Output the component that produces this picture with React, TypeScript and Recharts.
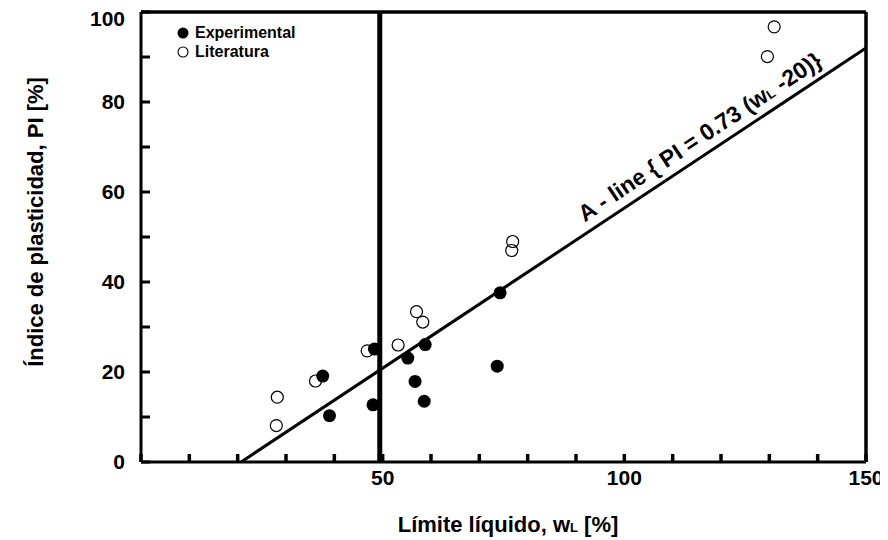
import React from 'react';
import {
  ScatterChart,
  Scatter,
  XAxis,
  YAxis,
  ReferenceLine,
  Legend,
} from 'recharts';

// ---- data ----
const experimental = [
  { x: 37.6, y: 19.1 },
  { x: 39.0, y: 10.3 },
  { x: 48.3, y: 25.1 },
  { x: 48.0, y: 12.7 },
  { x: 55.2, y: 23.1 },
  { x: 58.8, y: 26.1 },
  { x: 56.7, y: 17.9 },
  { x: 58.6, y: 13.5 },
  { x: 73.7, y: 21.3 },
  { x: 74.3, y: 37.6 },
];

const literatura = [
  { x: 28.2, y: 14.4 },
  { x: 28.0, y: 8.1 },
  { x: 36.1, y: 18.0 },
  { x: 46.8, y: 24.7 },
  { x: 53.2, y: 26.0 },
  { x: 57.0, y: 33.4 },
  { x: 58.3, y: 31.1 },
  { x: 76.9, y: 49.0 },
  { x: 76.7, y: 47.0 },
  { x: 131.0, y: 96.7 },
  { x: 129.6, y: 90.1 },
];

const aLine = [
  { x: 20.7, y: 0 },
  { x: 150, y: 92 },
];

const aLineLabelAnchor = [{ x: 115.6, y: 72.3 }];

const xTicks = [0, 10, 20, 30, 40, 50, 60, 70, 80, 90, 100, 110, 120, 130, 140, 150];
const xTickLabels = [50, 100, 150];
const yTicks = [0, 10, 20, 30, 40, 50, 60, 70, 80, 90, 100];
const yTickLabels = [0, 20, 40, 60, 80, 100];
const verticalLineX = 49.4;
const xMax = 150;
const yMax = 100;

const FONT = '"Liberation Sans", Arial, Helvetica, sans-serif';

const XTick = (props: any) => {
  const { x, y, payload } = props;
  if (!xTickLabels.includes(payload.value)) return <g />;
  return (
    <text x={x} y={y} textAnchor="middle" fontSize={21} fontWeight="bold" fill="#000" fontFamily={FONT}>
      {payload.value}
    </text>
  );
};

const YTick = (props: any) => {
  const { x, y, payload } = props;
  if (!yTickLabels.includes(payload.value)) return <g />;
  const extra = payload.value === 100 ? 7 : 0;
  return (
    <text x={x} y={y + extra} dy="0.35em" textAnchor="end" fontSize={21} fontWeight="bold" fill="#000" fontFamily={FONT}>
      {payload.value}
    </text>
  );
};

const OpenDot = (p: any) => (
  <circle cx={p.cx} cy={p.cy} r={6} fill="none" stroke="#000" strokeWidth={1.2} />
);
const FilledDot = (p: any) => <circle cx={p.cx} cy={p.cy} r={6.5} fill="#000" stroke="none" />;
const NoDot = () => <g />;

const ALineLabel = (p: any) => {
  const { cx, cy } = p;
  return (
    <text
      x={cx}
      y={cy}
      dy="0.35em"
      textAnchor="middle"
      fontSize={23}
      fontWeight="bold"
      fill="#000"
      fontFamily={FONT}
      transform={`rotate(-33.5 ${cx} ${cy})`}
    >
      A - line {'{'} PI = 0.73 (w<tspan fontSize={13}>L</tspan> -20){'}'}
    </text>
  );
};

const LegendContent = () => (
  <div style={{ fontFamily: FONT, fontWeight: 'bold', fontSize: 16, lineHeight: '19px', color: '#000' }}>
    <div style={{ display: 'flex', alignItems: 'center', height: 19 }}>
      <svg width={12} height={12} style={{ marginRight: 6 }}>
        <circle cx={6} cy={6} r={5.5} fill="#000" />
      </svg>
      Experimental
    </div>
    <div style={{ display: 'flex', alignItems: 'center', height: 19 }}>
      <svg width={12} height={12} style={{ marginRight: 6 }}>
        <circle cx={6} cy={6} r={5} fill="none" stroke="#000" strokeWidth={1.1} />
      </svg>
      Literatura
    </div>
  </div>
);

const XLabel = (props: any) => {
  const vb = props.viewBox || {};
  const cx = vb.x + vb.width / 2 + 4.5;
  return (
    <text x={cx} y={523.5} textAnchor="middle" fontSize={22} fontWeight="bold" fill="#000" fontFamily={FONT}>
      Límite líquido, w<tspan fontSize={13}>L</tspan> [%]
    </text>
  );
};

const YLabel = () => {
  const x = 35;
  const y = 214;
  return (
    <text
      x={x}
      y={y}
      textAnchor="middle"
      fontSize={22}
      fontWeight="bold"
      fill="#000"
      fontFamily={FONT}
      transform={`rotate(-90 ${x} ${y})`}
    >
      Índice de plasticidad, PI [%]
    </text>
  );
};

export default function App() {
  return (
    <div style={{ width: 880, height: 532, fontFamily: FONT }}>
      <ScatterChart
        width={880}
        height={532}
        margin={{ top: 4, right: 22, bottom: 48, left: 73 }}
        style={{ fontFamily: FONT }}
      >
        <XAxis
          type="number"
          dataKey="x"
          domain={[0, xMax]}
          ticks={xTicks}
          interval={0}
          allowDataOverflow
          height={30}
          tickSize={-8}
          tickMargin={31}
          axisLine={{ stroke: '#000', strokeWidth: 3 }}
          tickLine={{ stroke: '#000', strokeWidth: 3.5 }}
          tick={<XTick />}
          label={<XLabel />}
        />
        <YAxis
          type="number"
          dataKey="y"
          domain={[0, yMax]}
          ticks={yTicks}
          interval={0}
          allowDataOverflow
          width={60}
          tickSize={-9}
          tickMargin={25}
          axisLine={{ stroke: '#000', strokeWidth: 3 }}
          tickLine={{ stroke: '#000', strokeWidth: 3 }}
          tick={<YTick />}
          label={<YLabel />}
        />
        <ReferenceLine y={yMax} stroke="#000" strokeWidth={3.5} />
        <ReferenceLine x={xMax} stroke="#000" strokeWidth={3.5} />
        <Scatter
          name="A-line"
          data={aLine}
          line={{ stroke: '#000', strokeWidth: 3 }}
          lineType="joint"
          shape={<NoDot />}
          isAnimationActive={false}
          legendType="none"
        />
        <Scatter
          name="A-line label"
          data={aLineLabelAnchor}
          shape={<ALineLabel />}
          isAnimationActive={false}
          legendType="none"
        />
        <ReferenceLine x={verticalLineX} stroke="#000" strokeWidth={5} />
        <Scatter name="Literatura" data={literatura} shape={<OpenDot />} isAnimationActive={false} />
        <Scatter name="Experimental" data={experimental} shape={<FilledDot />} isAnimationActive={false} />
        <Legend
          layout="vertical"
          align="center"
          verticalAlign="middle"
          content={<LegendContent />}
          wrapperStyle={{ left: 169, top: 15, width: 140, height: 40 }}
        />
      </ScatterChart>
    </div>
  );
}
